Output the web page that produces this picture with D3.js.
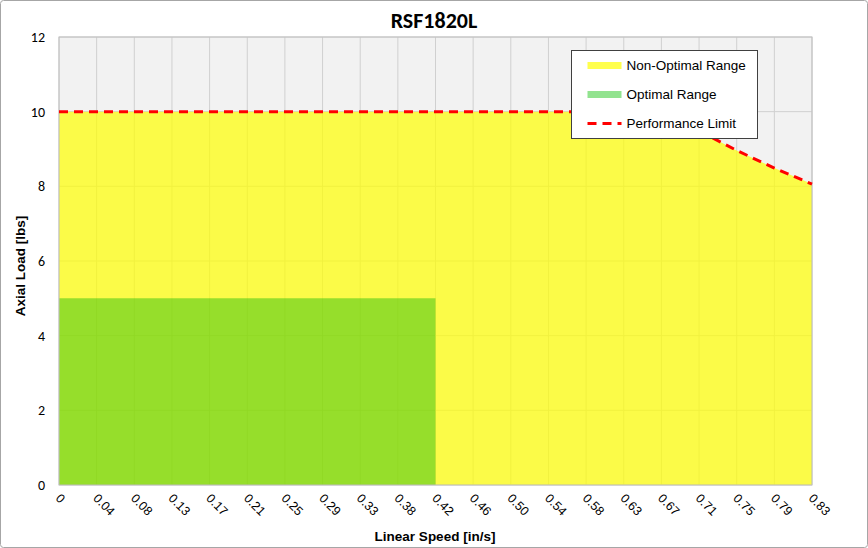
<!DOCTYPE html>
<html>
<head>
<meta charset="utf-8">
<script src="https://cdn.jsdelivr.net/npm/d3@7"></script>
<style>
  body { margin: 0; background: #fff; }
</style>
</head>
<body>
<div id="wrapper"></div>
<script>
// category labels on the x axis (linear speed, in/s)
const speedLabels = ["0", "0.04", "0.08", "0.13", "0.17", "0.21", "0.25", "0.29", "0.33", "0.38",
    "0.42", "0.46", "0.50", "0.54", "0.58", "0.63", "0.67", "0.71", "0.75", "0.79", "0.83"];
// performance limit / non-optimal range (lbs)
const limitLoad = [10, 10, 10, 10, 10, 10, 10, 10, 10, 10,
    10, 10, 10, 10, 10, 10, 10, 9.49, 8.96, 8.49, 8.06];
// optimal range (lbs), only up to 0.42
const optimalLoad = [5, 5, 5, 5, 5, 5, 5, 5, 5, 5, 5];
const yTicks = [0, 2, 4, 6, 8, 10, 12];
const legendItems = ["Non-Optimal Range", "Optimal Range", "Performance Limit"];

function buildChart(id) {
    const dimension = {
        width: 868,
        height: 548,
        margin: { top: 37, left: 59, bottom: 63, right: 56 }
    };
    dimension.boundedWidth = dimension.width - dimension.margin.left - dimension.margin.right;
    dimension.boundedHeight = dimension.height - dimension.margin.top - dimension.margin.bottom;

    const svg = d3.select("#" + id).append("svg")
        .attr("width", dimension.width)
        .attr("height", dimension.height);

    // outer chart border
    svg.append("rect")
        .attr("x", 0.5).attr("y", 0.5)
        .attr("width", dimension.width - 1).attr("height", dimension.height - 1)
        .attr("rx", 3)
        .attr("fill", "#fff")
        .attr("stroke", "#a6a6a6");

    const bounded = svg.append("g")
        .attr("transform", `translate(${dimension.margin.left}, ${dimension.margin.top})`);

    const xScaler = d3.scalePoint()
        .domain(speedLabels)
        .range([0, dimension.boundedWidth]);

    const yScaler = d3.scaleLinear()
        .domain([0, 12])
        .range([dimension.boundedHeight, 0]);

    // plot background
    bounded.append("rect")
        .attr("width", dimension.boundedWidth)
        .attr("height", dimension.boundedHeight)
        .attr("fill", "#f2f2f2");

    // grid
    bounded.append("g")
        .selectAll("line.h")
        .data(yTicks)
        .join("line")
        .attr("x1", 0).attr("x2", dimension.boundedWidth)
        .attr("y1", d => yScaler(d)).attr("y2", d => yScaler(d))
        .attr("stroke", "#d0d0d0");
    bounded.append("g")
        .selectAll("line.v")
        .data(speedLabels)
        .join("line")
        .attr("x1", d => xScaler(d)).attr("x2", d => xScaler(d))
        .attr("y1", 0).attr("y2", dimension.boundedHeight)
        .attr("stroke", "#d0d0d0");

    const yellowArea = d3.area()
        .x((d, i) => xScaler(speedLabels[i]))
        .y0(yScaler(0))
        .y1(d => yScaler(d));

    bounded.append("path")
        .attr("d", yellowArea(limitLoad))
        .attr("fill", "#ffff00")
        .attr("fill-opacity", 0.7);

    bounded.append("path")
        .attr("d", yellowArea(optimalLoad))
        .attr("fill", "#00b400")
        .attr("fill-opacity", 0.4);

    // plot border
    bounded.append("rect")
        .attr("width", dimension.boundedWidth)
        .attr("height", dimension.boundedHeight)
        .attr("fill", "none")
        .attr("stroke", "#bfbfbf");

    const limitLine = d3.line()
        .x((d, i) => xScaler(speedLabels[i]))
        .y(d => yScaler(d));

    bounded.append("path")
        .attr("d", limitLine(limitLoad))
        .attr("fill", "none")
        .attr("stroke", "#ff0000")
        .attr("stroke-width", 3)
        .attr("stroke-dasharray", "9,6");

    // y axis labels
    const yAxis = d3.axisLeft(yScaler).tickValues(yTicks).tickSize(0).tickPadding(14);
    const yG = bounded.append("g").call(yAxis);
    yG.select(".domain").remove();
    yG.selectAll("text")
        .style("font-family", "Carlito, 'Liberation Sans Narrow', sans-serif")
        .style("font-size", "14px")
        .attr("fill", "#000");

    // x axis labels, rotated
    bounded.append("g")
        .selectAll("text")
        .data(speedLabels)
        .join("text")
        .attr("transform", d => `translate(${xScaler(d) - 1}, ${dimension.boundedHeight + 11}) rotate(45)`)
        .attr("text-anchor", "start")
        .attr("dy", "0.35em")
        .style("font-family", "'Liberation Sans', Arial, sans-serif")
        .style("font-size", "12.5px")
        .text(d => d);

    svg.append("text")
        .attr("x", 434)
        .attr("y", 28)
        .attr("text-anchor", "middle")
        .style("font-family", "Carlito, 'Liberation Sans Narrow', sans-serif")
        .style("font-weight", "bold")
        .style("font-size", "22px")
        .text("RSF1820L");

    svg.append("text")
        .attr("x", 435)
        .attr("y", 541)
        .attr("text-anchor", "middle")
        .style("font-family", "'Liberation Sans', Arial, sans-serif")
        .style("font-weight", "bold")
        .style("font-size", "13.5px")
        .text("Linear Speed [in/s]");

    svg.append("text")
        .attr("transform", "translate(25, 266) rotate(-90)")
        .attr("text-anchor", "middle")
        .style("font-family", "'Liberation Sans', Arial, sans-serif")
        .style("font-weight", "bold")
        .style("font-size", "13.5px")
        .text("Axial Load [lbs]");

    // legend
    const legend = svg.append("g").attr("transform", "translate(571.5, 50.5)");
    legend.append("rect")
        .attr("width", 186).attr("height", 88)
        .attr("fill", "#fff")
        .attr("stroke", "#404040");
    const swatchColors = ["#ffff4d", "#92e38f", "#ff0000"];
    legendItems.forEach((name, i) => {
        const y = 15 + i * 29;
        const sw = legend.append("line")
            .attr("x1", 16).attr("x2", 50)
            .attr("y1", y).attr("y2", y)
            .attr("stroke", swatchColors[i]);
        if (i < 2) sw.attr("stroke-width", 7);
        else sw.attr("stroke-width", 3).attr("stroke-dasharray", "9,6");
        legend.append("text")
            .attr("x", 55)
            .attr("y", y)
            .attr("dy", "0.35em")
            .style("font-family", "'Liberation Sans', Arial, sans-serif")
            .style("font-size", "13.5px")
            .text(name);
    });
}

buildChart("wrapper");
</script>
</body>
</html>
